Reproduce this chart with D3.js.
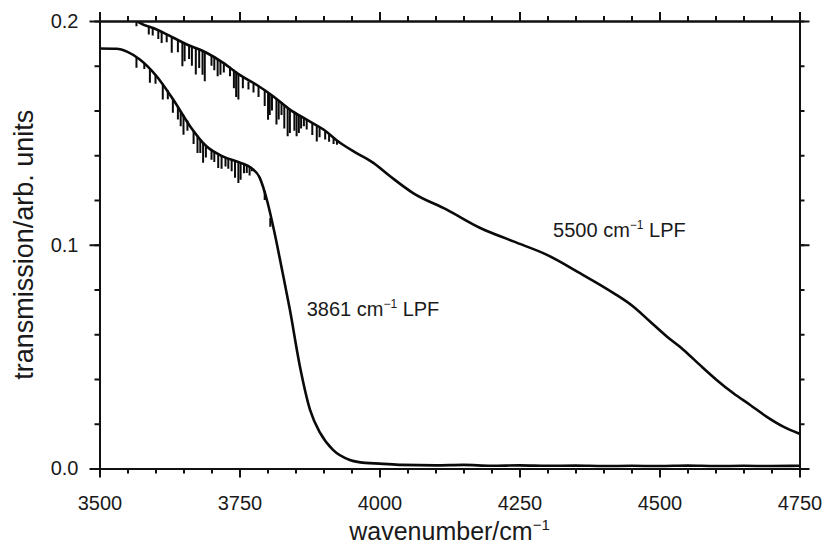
<!DOCTYPE html>
<html>
<head>
<meta charset="utf-8">
<script src="https://cdn.jsdelivr.net/npm/d3@7"></script>
<style>
  body { margin: 0; background: #fff; }
  text { font-family: "Liberation Sans", Arial, sans-serif; fill: #1a1a1a; }
</style>
</head>
<body>
<div id="chart"></div>
<script>
var width = 823, height = 551;

// 3861 cm-1 long pass filter, [wavenumber, transmission]
var lpf3861 = [
  [3500,0.1877],[3530,0.1876],[3550,0.1862],[3572,0.1828],[3602,0.1753],
  [3631,0.1651],[3662,0.1529],[3691,0.1440],[3720,0.1395],[3751,0.1367],
  [3770,0.1345],[3786,0.1300],[3800,0.1190],[3812,0.1060],[3825,0.0900],
  [3840,0.0709],[3858,0.0455],[3876,0.0262],[3894,0.0159],[3917,0.0083],
  [3947,0.0038],[3975,0.0025],[4000,0.0022],[4040,0.0016],[4100,0.0014],
  [4150,0.0016],[4200,0.0012],[4250,0.0014],[4300,0.0012],[4350,0.0013],
  [4400,0.0011],[4450,0.0012],[4500,0.0011],[4550,0.0013],[4600,0.0011],
  [4650,0.0012],[4700,0.0011],[4750,0.0012]
];

// 5500 cm-1 long pass filter
var lpf5500 = [
  [3550,0.2035],[3572,0.1992],[3602,0.1962],[3632,0.1925],[3656,0.1895],
  [3691,0.1858],[3721,0.1813],[3751,0.1758],[3781,0.1714],[3810,0.1664],
  [3840,0.1604],[3870,0.1559],[3900,0.1515],[3930,0.1455],[3959,0.1410],
  [3989,0.1366],[4019,0.1306],[4060,0.1231],[4120,0.1157],[4180,0.1075],
  [4239,0.1015],[4299,0.0955],[4358,0.0873],[4418,0.0784],[4453,0.0724],
  [4483,0.0657],[4513,0.0590],[4543,0.0530],[4572,0.0463],[4602,0.0396],
  [4632,0.0336],[4662,0.0284],[4691,0.0232],[4721,0.0187],[4750,0.0155]
];

// water vapour absorption dips: [wavenumber, top, bottom]
var dips3861 = [
  [3566,0.1838,0.1791],[3580,0.1812,0.1785],[3590,0.1790,0.1724],[3600,0.1760,0.1720],
  [3613,0.1720,0.1649],[3622,0.1690,0.1650],[3631,0.1651,0.1590],[3640,0.1615,0.1560],
  [3645,0.1597,0.1530],[3650,0.1580,0.1492],[3657,0.1555,0.1510],[3668,0.1508,0.1450],
  [3675,0.1487,0.1410],[3680,0.1470,0.1410],[3685,0.1458,0.1366],[3690,0.1443,0.1390],
  [3700,0.1425,0.1380],[3705,0.1418,0.1370],[3712,0.1408,0.1343],[3718,0.1398,0.1340],
  [3725,0.1392,0.1350],[3730,0.1386,0.1340],[3736,0.1380,0.1328],[3742,0.1375,0.1300],
  [3748,0.1370,0.1276],[3752,0.1366,0.1290],[3758,0.1360,0.1320],[3763,0.1355,0.1321],
  [3768,0.1348,0.1310],[3772,0.1343,0.1328],[3795,0.1240,0.1200],[3805,0.1120,0.1080]
];
var dips5500 = [
  [3566,0.2000,0.1977],[3588,0.1972,0.1940],[3595,0.1966,0.1935],[3605,0.1958,0.1920],
  [3611,0.1950,0.1902],[3620,0.1940,0.1905],[3629,0.1928,0.1858],[3640,0.1915,0.1860],
  [3648,0.1905,0.1798],[3652,0.1900,0.1820],[3660,0.1890,0.1830],[3665,0.1885,0.1800],
  [3672,0.1878,0.1761],[3678,0.1873,0.1790],[3684,0.1866,0.1760],[3688,0.1862,0.1731],
  [3700,0.1848,0.1800],[3705,0.1840,0.1780],[3711,0.1830,0.1753],[3716,0.1820,0.1760],
  [3722,0.1812,0.1770],[3733,0.1795,0.1753],[3740,0.1782,0.1700],[3744,0.1775,0.1660],
  [3748,0.1764,0.1649],[3756,0.1748,0.1700],[3766,0.1730,0.1694],[3775,0.1720,0.1680],
  [3784,0.1708,0.1660],[3795,0.1690,0.1620],[3801,0.1680,0.1559],[3804,0.1674,0.1580],
  [3808,0.1668,0.1600],[3816,0.1652,0.1537],[3820,0.1643,0.1560],[3825,0.1632,0.1580],
  [3830,0.1625,0.1520],[3836,0.1612,0.1485],[3840,0.1605,0.1500],[3848,0.1590,0.1510],
  [3852,0.1585,0.1485],[3856,0.1580,0.1500],[3860,0.1574,0.1520],[3865,0.1566,0.1530],
  [3870,0.1559,0.1515],[3880,0.1543,0.1490],[3888,0.1530,0.1462],[3893,0.1525,0.1480],
  [3903,0.1512,0.1470],[3910,0.1498,0.1460],[3918,0.1480,0.1450],[3924,0.1467,0.1447]
];

var xMajor = [3500, 3750, 4000, 4250, 4500, 4750],
    xMinor = d3.range(3500, 4751, 50),
    yMajor = [0, 0.1, 0.2],
    yMinor = d3.range(0, 0.2001, 0.02);

var labels = [
  {text: "3861 cm", sup: "\u22121", tail: " LPF", x: 3870, y: 0.0682},
  {text: "5500 cm", sup: "\u22121", tail: " LPF", x: 4310, y: 0.1036}
];

var margin = {top: 21, right: 23.5, bottom: 82.5, left: 99.5},
    gwidth = width - margin.left - margin.right,
    gheight = height - margin.top - margin.bottom;

var svg = d3.select("#chart").append("svg")
            .attr("width", width)
            .attr("height", height);

var g = svg.append("g")
           .attr("transform", "translate(" + margin.left + "," + margin.top + ")");

var xScale = d3.scaleLinear().domain([3500, 4750]).range([0, gwidth]),
    yScale = d3.scaleLinear().domain([0, 0.2]).range([gheight, 0]);

g.append("clipPath").attr("id", "clip")
 .append("rect").attr("width", gwidth).attr("height", gheight);

var plot = g.append("g").attr("clip-path", "url(#clip)");

var line = d3.line()
             .x(d => xScale(d[0]))
             .y(d => yScale(d[1]))
             .curve(d3.curveMonotoneX);

[lpf3861, lpf5500].forEach(function(s) {
  plot.append("path")
      .datum(s)
      .attr("d", line)
      .style("fill", "none")
      .style("stroke", "#0a0a0a")
      .style("stroke-width", 2.6);
});

plot.selectAll("line.dip")
    .data(dips3861.concat(dips5500))
    .enter()
    .append("line")
    .attr("class", "dip")
    .attr("x1", d => xScale(d[0]))
    .attr("x2", d => xScale(d[0]))
    .attr("y1", d => yScale(d[1]))
    .attr("y2", d => yScale(d[2]))
    .style("stroke", "#0a0a0a")
    .style("stroke-width", 2);

// axes: minor ticks then major ticks on all four sides
function styleAxis(sel) {
  sel.selectAll("path, line").style("stroke", "#111").style("stroke-width", 2);
  sel.selectAll("text").style("font-size", "20px").style("fill", "#1a1a1a")
     .style("font-family", "'Liberation Sans', Arial, sans-serif");
}

g.append("g").attr("transform", "translate(0," + gheight + ")")
 .call(d3.axisBottom(xScale).tickValues(xMinor).tickSize(5).tickSizeOuter(0).tickFormat(""))
 .call(styleAxis);
g.append("g").attr("transform", "translate(0," + gheight + ")")
 .call(d3.axisBottom(xScale).tickValues(xMajor).tickSize(9).tickSizeOuter(0)
        .tickPadding(18).tickFormat(d3.format("d")))
 .call(styleAxis);
g.append("g")
 .call(d3.axisTop(xScale).tickValues(xMinor).tickSize(5).tickSizeOuter(0).tickFormat(""))
 .call(styleAxis);
g.append("g")
 .call(d3.axisTop(xScale).tickValues(xMajor).tickSize(9).tickSizeOuter(0).tickFormat(""))
 .call(styleAxis);

g.append("g")
 .call(d3.axisLeft(yScale).tickValues(yMinor).tickSize(5).tickSizeOuter(0).tickFormat(""))
 .call(styleAxis);
g.append("g")
 .call(d3.axisLeft(yScale).tickValues(yMajor).tickSize(10).tickSizeOuter(0)
        .tickPadding(11).tickFormat(d3.format(".1f")))
 .call(styleAxis);
g.append("g").attr("transform", "translate(" + gwidth + ",0)")
 .call(d3.axisRight(yScale).tickValues(yMinor).tickSize(5).tickSizeOuter(0).tickFormat(""))
 .call(styleAxis);
g.append("g").attr("transform", "translate(" + gwidth + ",0)")
 .call(d3.axisRight(yScale).tickValues(yMajor).tickSize(10).tickSizeOuter(0).tickFormat(""))
 .call(styleAxis);

// curve labels
labels.forEach(function(l) {
  var t = g.append("text")
           .attr("x", xScale(l.x))
           .attr("y", yScale(l.y))
           .style("font-size", "20px");
  t.append("tspan").text(l.text);
  t.append("tspan").attr("dy", "-8").style("font-size", "12px").text(l.sup);
  t.append("tspan").attr("dy", "8").text(l.tail);
});

// axis titles
var xt = svg.append("text")
            .attr("text-anchor", "middle")
            .attr("x", margin.left + gwidth / 2)
            .attr("y", 540)
            .style("font-size", "25px");
xt.append("tspan").text("wavenumber/cm");
xt.append("tspan").attr("dy", "-10").style("font-size", "15px").text("\u22121");

svg.append("text")
   .attr("text-anchor", "middle")
   .attr("transform", "translate(33," + (margin.top + gheight / 2) + ") rotate(-90)")
   .style("font-size", "27px")
   .text("transmission/arb. units");
</script>
</body>
</html>
